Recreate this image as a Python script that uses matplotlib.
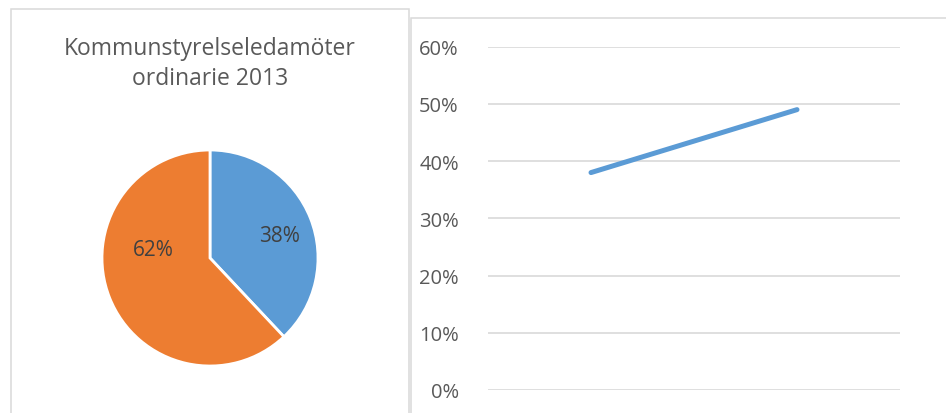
import matplotlib
matplotlib.use("Agg")
import matplotlib.pyplot as plt
from matplotlib.patches import Rectangle
from matplotlib.ticker import PercentFormatter

plt.rcParams['font.family'] = ['Open Sans', 'DejaVu Sans']

# Data
pie_title = "Kommunstyrelseledamöter\nordinarie 2013"
pie_values = [38, 62]
pie_colors = ["#5B9BD5", "#ED7D31"]
line_categories = ["A", "B"]
line_values = [0.38, 0.49]
y_ticks = [0.0, 0.1, 0.2, 0.3, 0.4, 0.5, 0.6]

W, H = 946, 414
fig = plt.figure(figsize=(W / 100, H / 100), dpi=100)

def px_rect(x0, y0, x1, y1):
    return [x0 / W, 1 - y1 / H, (x1 - x0) / W, (y1 - y0) / H]

# Panel borders
fig.patches.append(Rectangle((11 / W, -0.05), (409 - 11) / W, 1 - 10 / H + 0.05,
                             transform=fig.transFigure, fill=False,
                             edgecolor="#D9D9D9", linewidth=1.1))
fig.patches.append(Rectangle((411 / W, -0.05), 1.0, 1 - 19 / H + 0.05,
                             transform=fig.transFigure, fill=False,
                             edgecolor="#D9D9D9", linewidth=1.1))

# Title
fig.text(210 / W, 1 - 64 / H, pie_title, ha="center", va="center",
         fontsize=16.5, color="#595959", linespacing=1.3)

# Pie
cx, cy, r = 210, 259, 108
axp = fig.add_axes(px_rect(cx - r, cy - r, cx + r, cy + r))
wedges, texts, autotexts = axp.pie(
    pie_values, colors=pie_colors, startangle=90, counterclock=False,
    autopct="%1.0f%%", pctdistance=0.65,
    wedgeprops=dict(edgecolor="white", linewidth=2),
    textprops=dict(fontsize=15, color="#404040"))
axp.set_xlim(-1, 1)
axp.set_ylim(-1, 1)
axp.set_aspect("equal")
axp.axis("off")
autotexts[0].set_position((69 / r, 22 / r))
autotexts[1].set_position((-57 / r, 9 / r))
for t in autotexts:
    t.set_ha("center")
    t.set_va("center")

# Line chart
axl = fig.add_axes(px_rect(488, 47.7, 900, 391))
axl.plot(range(len(line_categories)), line_values, color="#5B9BD5",
         linewidth=3.6, solid_capstyle="round")
axl.set_xlim(-0.5, len(line_categories) - 0.5)
axl.set_ylim(0, 0.6)
axl.set_yticks(y_ticks)
axl.yaxis.set_major_formatter(PercentFormatter(1.0, decimals=0))
axl.set_xticks([])
axl.grid(axis="y", color="#D9D9D9", linewidth=1.2)
axl.set_axisbelow(True)
for s in axl.spines.values():
    s.set_visible(False)
axl.tick_params(axis="y", length=0, labelsize=14.5, labelcolor="#595959", pad=21)

fig.savefig("out.png", dpi=100)
